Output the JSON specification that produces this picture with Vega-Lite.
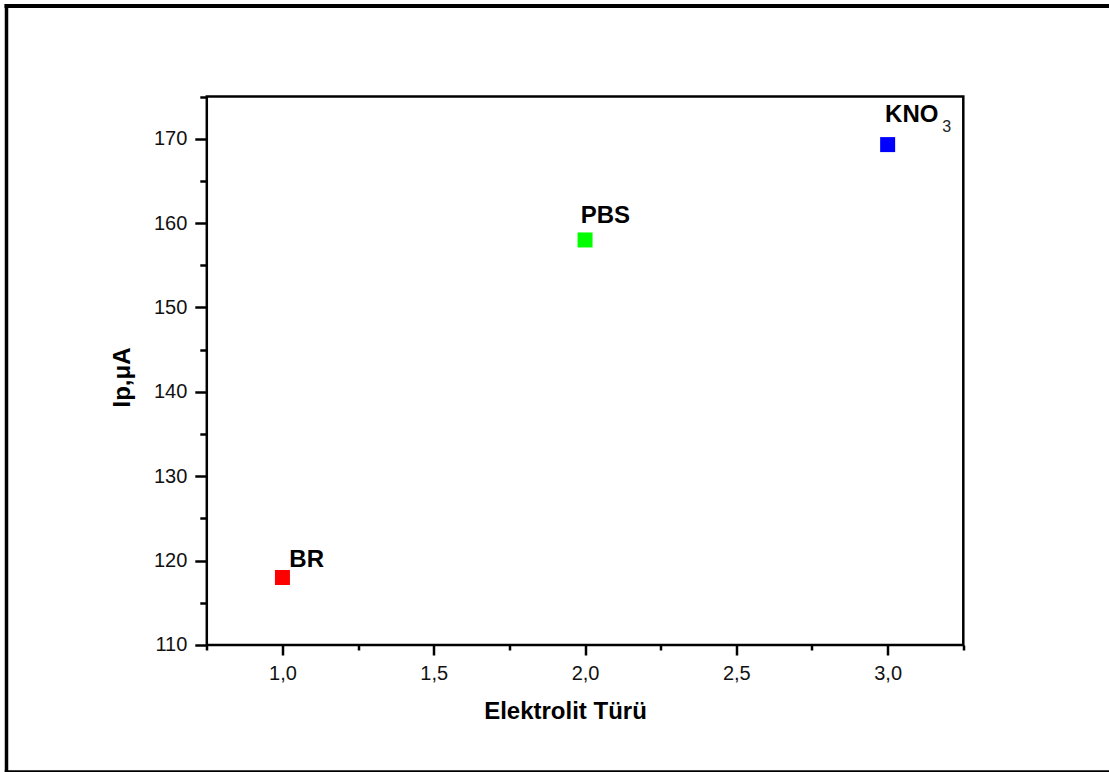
{
  "$schema": "https://vega.github.io/schema/vega-lite/v6.json",
  "width": 1102.5,
  "height": 766,
  "padding": {"left": 6.5, "top": 6, "right": 0, "bottom": 0},
  "autosize": {"type": "none"},
  "background": "white",
  "config": {
    "font": "Liberation Sans",
    "view": {"stroke": null}
  },
  "data": {
    "values": [
      {"name": "BR", "label": "BR", "x": 1, "y": 118},
      {"name": "PBS", "label": "PBS", "x": 2, "y": 158},
      {"name": "KNO3", "label": "KNO", "sub": "3", "x": 3, "y": 169.3}
    ]
  },
  "layer": [
    {
      "data": {"values": [{"frame": "left"}]},
      "mark": {"type": "rule", "stroke": "black", "strokeWidth": 3.5, "strokeCap": "square", "clip": false},
      "encoding": {
        "x": {"datum": 0.08807, "type": "quantitative", "scale": {"domain": [0.08807, 3.7315], "nice": false, "zero": false}},
        "y": {"datum": 94.949, "type": "quantitative", "scale": {"domain": [94.949, 185.725], "nice": false, "zero": false}},
        "y2": {"datum": 185.725}
      }
    },
    {
      "data": {"values": [{"frame": "top"}]},
      "mark": {"type": "rule", "stroke": "black", "strokeWidth": 4, "strokeCap": "square", "clip": false},
      "encoding": {
        "x": {"datum": 0.08807, "type": "quantitative"},
        "x2": {"datum": 3.7315},
        "y": {"datum": 185.725, "type": "quantitative"}
      }
    },
    {
      "data": {"values": [{"frame": "bottom"}]},
      "mark": {"type": "rule", "stroke": "black", "strokeWidth": 3.5, "strokeCap": "square", "clip": false},
      "encoding": {
        "x": {"datum": 0.08807, "type": "quantitative"},
        "x2": {"datum": 3.7315},
        "y": {"datum": 94.949, "type": "quantitative"}
      }
    },
    {
      "data": {"values": [{"frame": "inner"}]},
      "mark": {"type": "rect", "fill": null, "fillOpacity": 0, "stroke": "black", "strokeWidth": 2.5},
      "encoding": {
        "x": {"datum": 0.75, "type": "quantitative"},
        "x2": {"datum": 3.25},
        "y": {"datum": 110, "type": "quantitative"},
        "y2": {"datum": 175}
      }
    },
    {
      "mark": {"type": "point", "shape": "square", "filled": true, "size": 225, "opacity": 1, "strokeWidth": 0},
      "encoding": {
        "x": {
          "field": "x", "type": "quantitative",
          "scale": {"domain": [0.08807, 3.7315], "nice": false, "zero": false},
          "axis": {
            "orient": "bottom",
            "offset": -127,
            "domain": false,
            "grid": false,
            "values": [0.75, 1, 1.25, 1.5, 1.75, 2, 2.25, 2.5, 2.75, 3, 3.25],
            "tickColor": "black",
            "tickWidth": 2.5,
            "tickSize": {"condition": {"test": "(datum.value * 2) % 1 === 0", "value": 10}, "value": 5},
            "labelExpr": "(datum.value * 2) % 1 === 0 ? replace(format(datum.value, '.1f'), '.', ',') : ''",
            "labelFont": "Liberation Sans",
            "labelFontSize": 20,
            "labelColor": "#111111",
            "labelPadding": 8.5,
            "labelOverlap": false,
            "labelFlush": false,
            "title": "Elektrolit Türü",
            "titleFont": "Liberation Sans",
            "titleFontSize": 24,
            "titleFontWeight": "bold",
            "titleColor": "black",
            "titleX": 558.5,
            "titleY": 73.3,
            "titleBaseline": "alphabetic",
            "titleAlign": "center"
          }
        },
        "y": {
          "field": "y", "type": "quantitative",
          "scale": {"domain": [94.949, 185.725], "nice": false, "zero": false},
          "axis": {
            "orient": "left",
            "offset": -200.3,
            "domain": false,
            "grid": false,
            "values": [110, 115, 120, 125, 130, 135, 140, 145, 150, 155, 160, 165, 170, 175],
            "tickColor": "black",
            "tickWidth": 2.5,
            "tickSize": {"condition": {"test": "datum.value % 10 === 0", "value": 12}, "value": 7},
            "labelExpr": "datum.value % 10 === 0 ? datum.label : ''",
            "labelFont": "Liberation Sans",
            "labelFontSize": 20,
            "labelColor": "#111111",
            "labelPadding": 8,
            "labelOverlap": false,
            "labelFlush": false,
            "title": "Ip,μA",
            "titleFont": "Liberation Sans",
            "titleFontSize": 24,
            "titleFontWeight": "bold",
            "titleColor": "black",
            "titleAngle": -90,
            "titleX": -77,
            "titleY": 371,
            "titleBaseline": "alphabetic",
            "titleAlign": "center"
          }
        },
        "color": {
          "field": "name", "type": "nominal",
          "scale": {"domain": ["BR", "PBS", "KNO3"], "range": ["#ff0000", "#00ff00", "#0000ff"]},
          "legend": null
        }
      }
    },
    {
      "transform": [{"filter": "datum.name === 'BR'"}],
      "mark": {"type": "text", "align": "left", "baseline": "alphabetic", "dx": 6.9, "dy": -10.8, "fontSize": 24, "fontWeight": "bold", "font": "Liberation Sans", "color": "black"},
      "encoding": {
        "x": {"field": "x", "type": "quantitative"},
        "y": {"field": "y", "type": "quantitative"},
        "text": {"field": "label"}
      }
    },
    {
      "transform": [{"filter": "datum.name === 'PBS'"}],
      "mark": {"type": "text", "align": "left", "baseline": "alphabetic", "dx": -4.4, "dy": -16.7, "fontSize": 24, "fontWeight": "bold", "font": "Liberation Sans", "color": "black"},
      "encoding": {
        "x": {"field": "x", "type": "quantitative"},
        "y": {"field": "y", "type": "quantitative"},
        "text": {"field": "label"}
      }
    },
    {
      "transform": [{"filter": "datum.name === 'KNO3'"}],
      "mark": {"type": "text", "align": "left", "baseline": "alphabetic", "dx": -2.6, "dy": -22.6, "fontSize": 24, "fontWeight": "bold", "font": "Liberation Sans", "color": "black"},
      "encoding": {
        "x": {"field": "x", "type": "quantitative"},
        "y": {"field": "y", "type": "quantitative"},
        "text": {"field": "label"}
      }
    },
    {
      "transform": [{"filter": "datum.sub != null"}],
      "mark": {"type": "text", "align": "left", "baseline": "alphabetic", "dx": 54.5, "dy": -12.9, "fontSize": 16, "font": "Liberation Sans", "color": "#222222"},
      "encoding": {
        "x": {"field": "x", "type": "quantitative"},
        "y": {"field": "y", "type": "quantitative"},
        "text": {"field": "sub"}
      }
    }
  ]
}
